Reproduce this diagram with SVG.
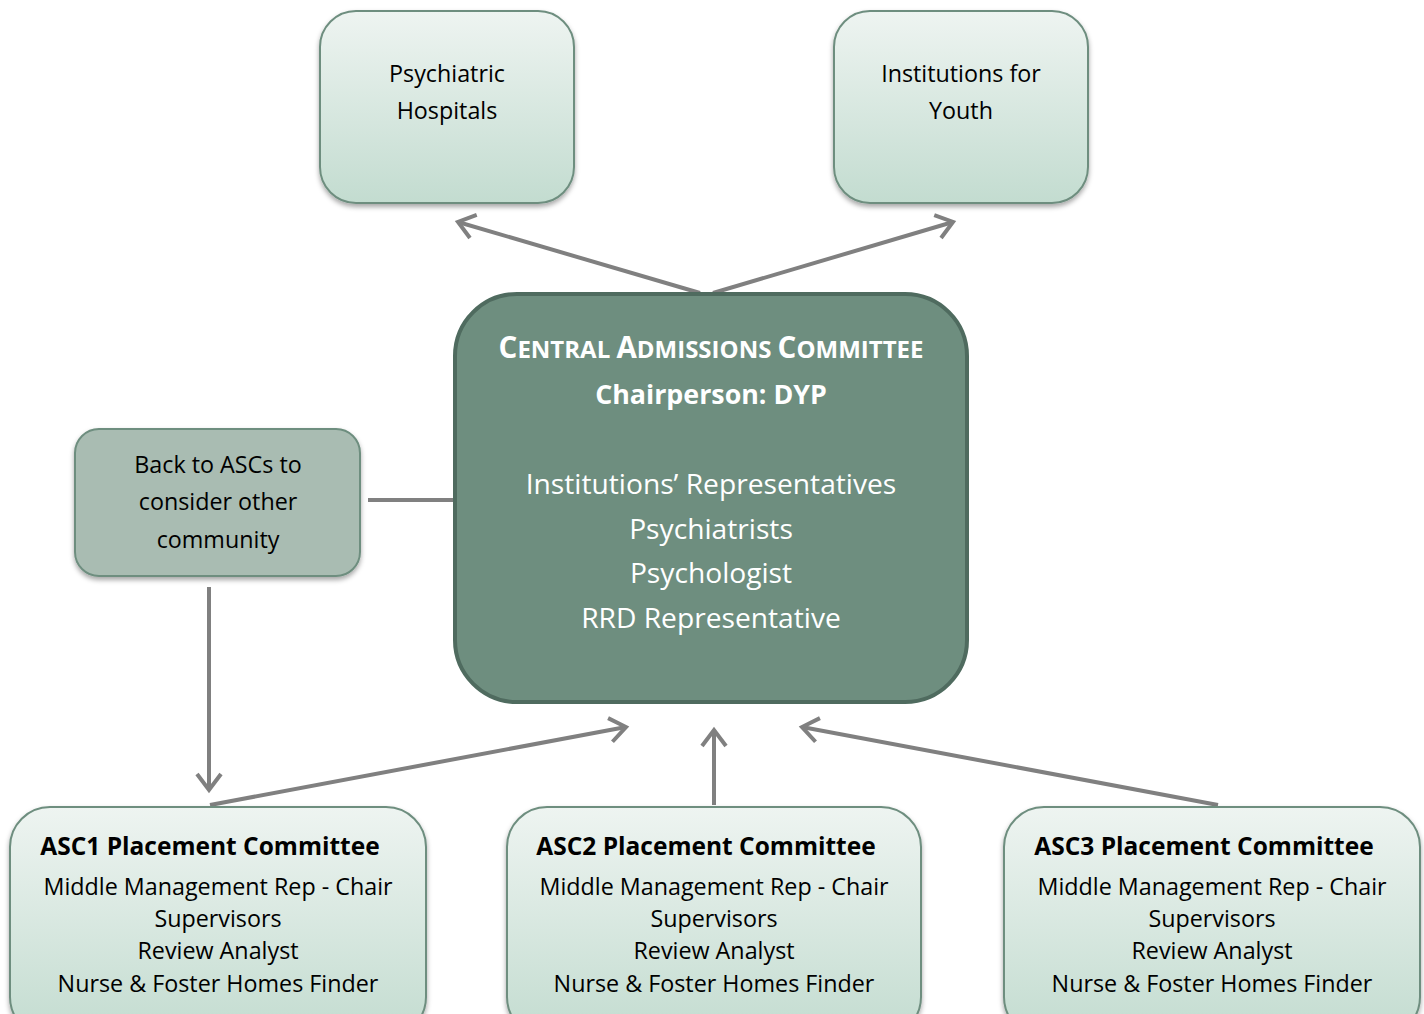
<svg xmlns="http://www.w3.org/2000/svg" width="1424" height="1014" viewBox="0 0 1424 1014">
<style>
.light{fill:url(#lg);stroke:#6e8e7f;stroke-width:2}
.t{font-family:"Open Sans","Noto Sans",sans-serif;font-size:23.3px;fill:#000;text-anchor:middle}
.b{font-weight:bold}
.w{fill:#fff}
.h{font-size:24.5px}
.m{font-size:28.2px}
.c{fill:none;stroke:#808080;stroke-width:4}
</style>
<defs>
<linearGradient id="lg" x1="0" y1="0" x2="0" y2="1">
<stop offset="0" stop-color="#eef4f1"/>
<stop offset="1" stop-color="#c3dcd0"/>
</linearGradient>
<filter id="sh" x="-10%" y="-10%" width="120%" height="125%">
<feDropShadow dx="0" dy="3" stdDeviation="2.5" flood-color="#000" flood-opacity="0.35"/>
</filter>
<marker id="ar" markerWidth="30" markerHeight="30" refX="20" refY="15" orient="auto" markerUnits="userSpaceOnUse">
<path d="M4,3 L20,15 L4,27" fill="none" stroke="#808080" stroke-width="4"/>
</marker>
</defs>
<g id="connectors">
<line class="c" x1="700" y1="293" x2="458" y2="222" marker-end="url(#ar)"/>
<line class="c" x1="713" y1="293" x2="953" y2="222" marker-end="url(#ar)"/>
<line class="c" x1="368" y1="500" x2="453" y2="500"/>
<line class="c" x1="209" y1="587" x2="209" y2="790" marker-end="url(#ar)"/>
<line class="c" x1="210" y1="805" x2="626" y2="727" marker-end="url(#ar)"/>
<line class="c" x1="714" y1="805" x2="714" y2="730" marker-end="url(#ar)"/>
<line class="c" x1="1218" y1="805" x2="802" y2="727" marker-end="url(#ar)"/>
</g>
<g id="psychiatric-hospitals">
<rect class="light" x="320" y="11" width="254" height="192" rx="36" filter="url(#sh)"/>
<text class="t" x="447" y="82">Psychiatric</text>
<text class="t" x="447" y="119">Hospitals</text>
</g>
<g id="institutions-youth">
<rect class="light" x="834" y="11" width="254" height="192" rx="36" filter="url(#sh)"/>
<text class="t" x="961" y="82">Institutions for</text>
<text class="t" x="961" y="119">Youth</text>
</g>
<g id="central">
<rect x="455" y="294" width="512" height="408" rx="62" fill="#6e8e7f" stroke="#4f6b5f" stroke-width="4"/>
<text class="t w b" x="711" y="358" style="font-size:29.5px"><tspan>C</tspan><tspan style="font-size:24px">ENTRAL </tspan><tspan>A</tspan><tspan style="font-size:24px">DMISSIONS </tspan><tspan>C</tspan><tspan style="font-size:24px">OMMITTEE</tspan></text>
<text class="t w b" x="711" y="404" style="font-size:26.8px">Chairperson: DYP</text>
<text class="t w m" x="711" y="494">Institutions’ Representatives</text>
<text class="t w m" x="711" y="539">Psychiatrists</text>
<text class="t w m" x="711" y="583">Psychologist</text>
<text class="t w m" x="711" y="628">RRD Representative</text>
</g>
<g id="back-to-ascs">
<rect x="75" y="429" width="285" height="147" rx="24" fill="#a9bcb2" stroke="#6e8e7f" stroke-width="2" filter="url(#sh)"/>
<text class="t" x="218" y="473">Back to ASCs to</text>
<text class="t" x="218" y="510">consider other</text>
<text class="t" x="218" y="548">community</text>
</g>
<g id="asc1">
<rect class="light" x="10" y="807" width="416" height="230" rx="40" filter="url(#sh)"/>
<text class="t b h" x="210" y="855">ASC1 Placement Committee</text>
<text class="t" x="218" y="895">Middle Management Rep - Chair</text>
<text class="t" x="218" y="927">Supervisors</text>
<text class="t" x="218" y="959">Review Analyst</text>
<text class="t" x="218" y="992">Nurse &amp; Foster Homes Finder</text>
</g>
<g id="asc2">
<rect class="light" x="507" y="807" width="414" height="230" rx="40" filter="url(#sh)"/>
<text class="t b h" x="706" y="855">ASC2 Placement Committee</text>
<text class="t" x="714" y="895">Middle Management Rep - Chair</text>
<text class="t" x="714" y="927">Supervisors</text>
<text class="t" x="714" y="959">Review Analyst</text>
<text class="t" x="714" y="992">Nurse &amp; Foster Homes Finder</text>
</g>
<g id="asc3">
<rect class="light" x="1004" y="807" width="416" height="230" rx="40" filter="url(#sh)"/>
<text class="t b h" x="1204" y="855">ASC3 Placement Committee</text>
<text class="t" x="1212" y="895">Middle Management Rep - Chair</text>
<text class="t" x="1212" y="927">Supervisors</text>
<text class="t" x="1212" y="959">Review Analyst</text>
<text class="t" x="1212" y="992">Nurse &amp; Foster Homes Finder</text>
</g>
</svg>
